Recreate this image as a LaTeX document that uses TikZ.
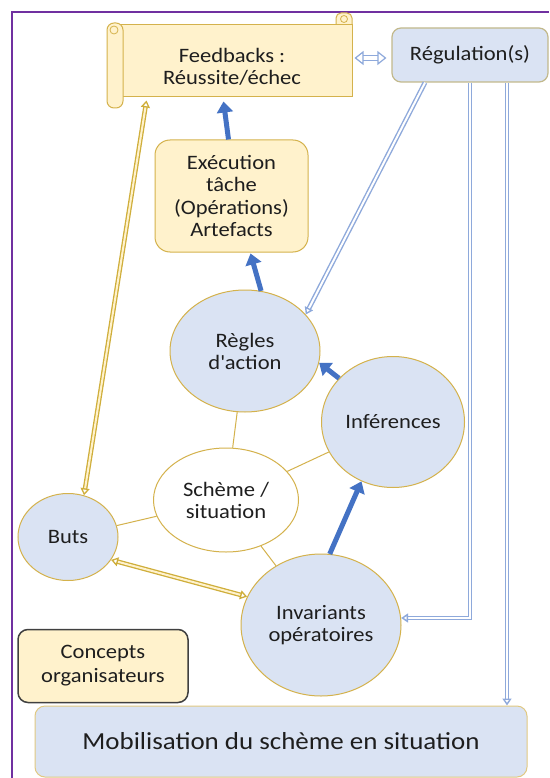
\documentclass[tikz,border=0pt]{standalone}
\usepackage{fontspec}
\setmainfont{Carlito}[FakeStretch=1.1]
\usetikzlibrary{shapes.geometric,arrows.meta,calc}
\definecolor{gold}{HTML}{D4B24C}
\definecolor{creme}{HTML}{FFF2CC}
\definecolor{pale}{HTML}{DAE3F3}
\definecolor{txt}{HTML}{1E1E1E}
\definecolor{bluearr}{HTML}{4472C4}
\definecolor{bluedbl}{HTML}{8EA9DB}
\definecolor{frame}{HTML}{7030A0}
\definecolor{regborder}{HTML}{C2B98C}
\definecolor{yellowdbl}{HTML}{CFAE3A}
\tikzset{
  lbl/.style={text=txt, font=\fontsize{20.5}{21.5}\selectfont, align=center, inner sep=0pt},
  ell/.style={ellipse, draw=gold, line width=1pt, fill=pale, inner sep=0pt, text=txt, font=\fontsize{20.5}{22}\selectfont, align=center},
  thickarr/.style={draw=bluearr, line width=5pt, -{Triangle[length=11pt,width=16pt]}},
  bluedouble/.style={draw=bluedbl, line width=1.4pt, double=white, double distance=2pt, -{Triangle[open,length=7pt,width=9pt]}},
  yellowdouble/.style={draw=yellowdbl, line width=1.3pt, double=creme, double distance=2pt, {Triangle[open,length=7pt,width=9pt]}-{Triangle[open,length=7pt,width=9pt]}},
  link/.style={draw=gold, line width=1pt},
}
\begin{document}
\begin{tikzpicture}[x=1pt,y=-1pt]
\useasboundingbox (0,0) rectangle (549,778);
\fill[white] (0,0) rectangle (549,778);
% frame
\draw[frame, line width=2pt] (12,778) -- (12,12) -- (549,12);

% Feedbacks scroll
\filldraw[draw=gold, fill=creme, line width=1pt, rounded corners=5pt] (336,13) rectangle (352,36);
\node[draw=gold, fill=creme, line width=1pt, minimum width=237pt, minimum height=72pt, inner sep=0pt] (fb) at (233.5,61) {};
\draw[gold, line width=0.8pt, fill=creme] (344,19) circle (3.5pt);
\filldraw[draw=gold, fill=creme, line width=1pt, rounded corners=7pt] (107,23) rectangle (123,108);
\draw[gold, line width=0.8pt, fill=creme] (114,30) circle (4pt);
\node[lbl] (fbtext) at (232,67) {Feedbacks :\\Réussite/échec};

% Regulation
\node[draw=regborder, fill=pale, line width=1.2pt, rounded corners=9pt, minimum width=156pt, minimum height=54pt, inner sep=0pt, text=txt, font=\fontsize{20.5}{22}\selectfont] (reg) at (470,55) {Régulation(s)};

% Execution
\node[draw=gold, fill=creme, line width=1pt, rounded corners=15pt, minimum width=153pt, minimum height=112pt, inner sep=0pt, text=txt, font=\fontsize{20.5}{22.3}\selectfont, align=center] (exec) at (231.5,196) {Exécution\\tâche\\(Opérations)\\Artefacts};

% ellipses
\node[ell, minimum width=150pt, minimum height=122pt] (regles) at (245,351) {Règles\\d\textquotesingle action};
\node[ell, minimum width=143pt, minimum height=131pt] (infer) at (393,422) {Inférences};
\node[ell, fill=white, minimum width=145pt, minimum height=104pt] (scheme) at (226,500) {Schème /\\situation};
\node[ell, minimum width=100pt, minimum height=87pt] (buts) at (68,537) {Buts};
\node[ell, minimum width=160pt, minimum height=142pt] (invar) at (321,625) {Invariants\\opératoires};

% Concepts
\node[draw=black!75, fill=creme, line width=1.5pt, rounded corners=10pt, minimum width=170pt, minimum height=73pt, inner sep=0pt, text=txt, font=\fontsize{20.5}{24}\selectfont, align=center] (concepts) at (103,666) {Concepts\\organisateurs};

% Mobilisation
\node[draw=gold!70, fill=pale, line width=1pt, rounded corners=10pt, minimum width=492pt, minimum height=71pt, inner sep=0pt, text=txt, font=\fontsize{24.5}{26}\selectfont] (mobil) at (281,741.5) {Mobilisation du schème en situation};

% plain links
\draw[link] (regles) -- (scheme);
\draw[link] (scheme) -- (infer);
\draw[link] (buts) -- (scheme);
\draw[link] (scheme) -- (invar);

% thick blue arrows
\draw[thickarr] ($(exec.north)+(-3,0)$) -- ($(fb.south)+(-10,4)$);
\draw[thickarr] (regles.75) -- ($(exec.south)+(19,1)$);
\draw[thickarr] (infer.141) -- (regles.-9);
\draw[thickarr] (invar.83) -- (infer.242);

% blue double connectors
\draw[draw=bluedbl, line width=1.2pt, double=white, double distance=4pt, {Triangle[open,length=9pt,width=14pt]}-{Triangle[open,length=9pt,width=14pt]}] ($(fb.east)+(2,-3)$) -- ($(reg.west)+(-5,3)$);
\draw[bluedouble] ($(reg.south)+(-45,0)$) -- (regles.31);
\draw[bluedouble] (reg.south) |- (invar.5);
\coordinate (rm) at ($(reg.south)+(37,0)$);
\draw[bluedouble] (rm) -- (rm |- mobil.north);

% yellow double connectors
\draw[yellowdouble] ($(fb.south west)+(32,3)$) -- (buts.69);
\draw[yellowdouble] (buts.-28) -- (invar.159);
\end{tikzpicture}
\end{document}
